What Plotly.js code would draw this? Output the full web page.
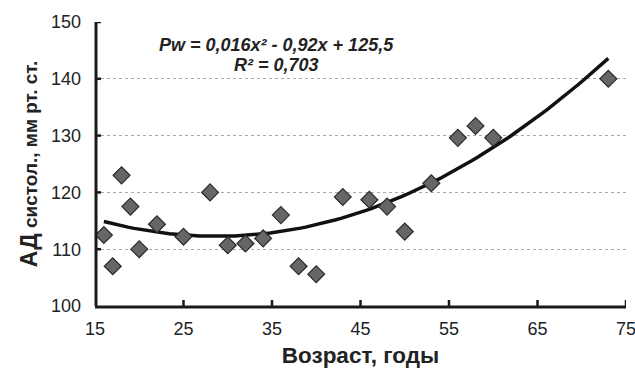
<!DOCTYPE html>
<html>
<head>
<meta charset="utf-8">
<script src="https://cdn.plot.ly/plotly-3.0.1.min.js"></script>
<style>html,body{margin:0;padding:0;background:#fff;}#chart{width:635px;height:369px;}</style>
</head>
<body>
<div id="chart"></div>
<script>
// Data
const ages = [16, 17, 18, 19, 20, 22, 25, 28, 30, 32, 34, 36, 38, 40, 43, 46, 48, 50, 53, 56, 58, 60, 73];
const sbp  = [112.5, 107, 123, 117.5, 110, 114.4, 112.2, 120, 110.7, 111, 111.9, 116, 107, 105.6, 119.2, 118.7, 117.5, 113.1, 121.6, 129.6, 131.7, 129.6, 140];
// Trendline coefficients printed on the chart: a*x^2 + b*x + c
const trendCoef = [0.016, -0.92, 125.5];
const xTicks = [15, 25, 35, 45, 55, 65, 75];
const yTicks = [100, 110, 120, 130, 140, 150];

const trendX = [];
const trendY = [];
const xmin = Math.min(...ages), xmax = Math.max(...ages);
for (let i = 0; i <= 100; i++) {
  const x = xmin + (xmax - xmin) * i / 100;
  trendX.push(x);
  trendY.push(trendCoef[0] * x * x + trendCoef[1] * x + trendCoef[2]);
}

const font = 'Liberation Sans, Arial, sans-serif';
const ink = '#222';
const axisInk = '#1a1a1a';

const data = [
  {x: trendX, y: trendY, mode: 'lines', type: 'scatter',
   line: {color: '#111', width: 3.5}, hoverinfo: 'skip', cliponaxis: false},
  {x: ages, y: sbp, mode: 'markers', type: 'scatter', cliponaxis: false,
   marker: {symbol: 'diamond', size: 13, color: '#666', line: {color: '#2a2a2a', width: 1.2}}}
];

// Axis lines and inside tick marks drawn as shapes (tied to the axes' own scales)
const shapes = [
  {type: 'line', layer: 'above', xref: 'paper', x0: 0, x1: 1, yref: 'paper', ysizemode: 'pixel', yanchor: 0, y0: -1, y1: -1,
   line: {color: axisInk, width: 3}},
  {type: 'line', layer: 'above', yref: 'paper', y0: 0, y1: 1, xref: 'paper', xsizemode: 'pixel', xanchor: 0, x0: 1, x1: 1,
   line: {color: axisInk, width: 3}}
];
xTicks.slice(1).forEach(v => shapes.push({type: 'line', layer: 'above', xref: 'x', x0: v, x1: v,
  yref: 'paper', ysizemode: 'pixel', yanchor: 0, y0: 0, y1: 6, line: {color: axisInk, width: 2.5}}));
yTicks.slice(1).forEach(v => shapes.push({type: 'line', layer: 'above', yref: 'y', y0: v, y1: v,
  xref: 'paper', xsizemode: 'pixel', xanchor: 0, x0: 0, x1: 6, line: {color: axisInk, width: 2.5}}));

const layout = {
  width: 635, height: 369,
  margin: {l: 95, r: 9, t: 22, b: 63},
  showlegend: false,
  paper_bgcolor: '#fff', plot_bgcolor: '#fff',
  font: {family: font, color: ink},
  xaxis: {
    range: [15, 75], tickvals: xTicks,
    showgrid: false, zeroline: false, showline: false,
    ticks: '', ticklabelstandoff: 10,
    ticklabeloverflow: 'allow',
    tickfont: {size: 18, color: ink, family: font},
    title: {text: '<b>Возраст, годы</b>', font: {size: 22.5, color: ink, family: font}, standoff: 9}
  },
  yaxis: {
    range: [100, 150], tickvals: yTicks,
    showgrid: true, gridcolor: '#aaa', gridwidth: 1, griddash: 'dot',
    zeroline: false, showline: false,
    ticks: '', ticklabelstandoff: 13,
    tickfont: {size: 18, color: ink, family: font},
    title: {text: '<b><span style="font-size:23px">АД</span> систол., мм рт. ст.</b>', font: {size: 19, color: ink, family: font}, standoff: 8}
  },
  shapes: shapes,
  annotations: [
    {xref: 'paper', yref: 'paper', x: (276 - 95) / 531, y: (306 - 45) / 284,
     text: '<b><i>Pw = 0,016x² - 0,92x + 125,5</i></b>', showarrow: false,
     font: {size: 18, color: ink, family: font}, xanchor: 'center', yanchor: 'middle'},
    {xref: 'paper', yref: 'paper', x: (276 - 95) / 531, y: (306 - 65) / 284,
     text: '<b><i>R² = 0,703</i></b>', showarrow: false,
     font: {size: 18, color: ink, family: font}, xanchor: 'center', yanchor: 'middle'}
  ]
};

Plotly.newPlot('chart', data, layout, {displayModeBar: false, staticPlot: true});
</script>
</body>
</html>
